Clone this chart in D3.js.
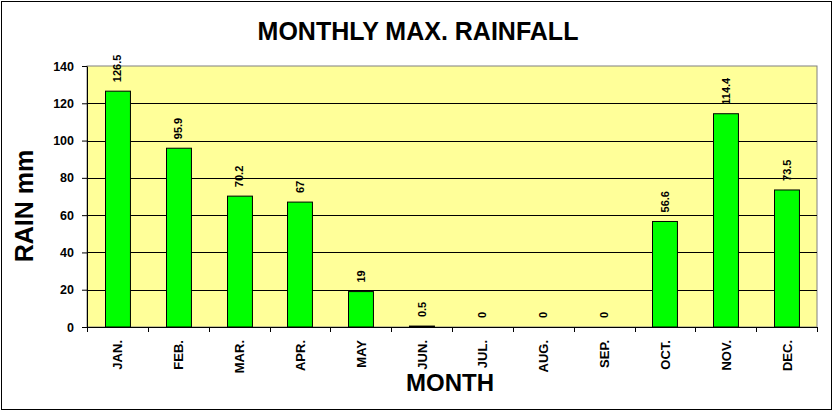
<!DOCTYPE html>
<html>
<head>
<script src="https://cdn.jsdelivr.net/npm/d3@7"></script>
<style>
  body { margin: 0; background: #fff; }
  text { font-family: Arial, "Liberation Sans", sans-serif; font-weight: bold; }
</style>
</head>
<body>
<svg id="chart" width="833" height="411"></svg>
<script>
const months = ['JAN.', 'FEB.', 'MAR.', 'APR.', 'MAY', 'JUN.', 'JUL.', 'AUG.', 'SEP.', 'OCT.', 'NOV.', 'DEC.'];
const rain = [126.5, 95.9, 70.2, 67, 19, 0.5, 0, 0, 0, 56.6, 114.4, 73.5];
const yTicks = [0, 20, 40, 60, 80, 100, 120, 140];

const svg = d3.select('#chart');
const margin = {top: 66, right: 16, bottom: 84, left: 87};
const W = 833, H = 411;
const innerW = W - margin.left - margin.right;
const innerH = H - margin.top - margin.bottom;

// outer frame
svg.append('rect').attr('x', 1.5).attr('y', 1.5).attr('width', W - 3).attr('height', H - 3)
  .attr('fill', '#fff').attr('stroke', '#000').attr('stroke-width', 1);

const g = svg.append('g').attr('transform', `translate(${margin.left},${margin.top})`);

const x = d3.scaleBand().domain(months).range([0, innerW]).paddingInner(0.59).paddingOuter(0.295);
const xOuter = d3.scaleBand().domain(months).range([0, innerW]);
const y = d3.scaleLinear().domain([0, 140]).range([innerH, 0]);

// plot background
g.append('rect').attr('width', innerW).attr('height', innerH)
  .attr('fill', '#ffff99').attr('stroke', '#808080');

// gridlines
g.selectAll('.grid').data(yTicks.filter(d => d > 0 && d < 140)).join('line')
  .attr('x1', 0).attr('x2', innerW)
  .attr('y1', d => Math.round(y(d)) + 0.5).attr('y2', d => Math.round(y(d)) + 0.5)
  .attr('stroke', '#000');

// bars
g.selectAll('.bar').data(rain).join('rect')
  .attr('x', (d, i) => Math.round(x(months[i])) + 0.5)
  .attr('y', d => y(d))
  .attr('width', x.bandwidth())
  .attr('height', d => innerH - y(d))
  .attr('fill', '#00ff00').attr('stroke', '#000');

// value labels
g.selectAll('.val').data(rain).join('text')
  .attr('transform', (d, i) => `translate(${x(months[i]) + x.bandwidth() / 2 + 4},${y(d) - 9}) rotate(-90)`)
  .attr('font-size', 11).attr('text-anchor', 'start')
  .text(d => d);

// y axis
const yAxis = g.append('g').call(d3.axisLeft(y).tickValues(yTicks).tickSize(5).tickPadding(8).tickSizeOuter(0));
yAxis.select('.domain').attr('stroke', '#000');
yAxis.selectAll('text').attr('font-size', 12.5).attr('fill', '#000')
  .style('font-family', 'Arial, "Liberation Sans", sans-serif').style('font-weight', 'bold');

// x axis: ticks at category boundaries
const xg = g.append('g').attr('transform', `translate(0,${innerH})`);
xg.append('line').attr('x1', 0).attr('x2', innerW).attr('y1', 0.5).attr('y2', 0.5).attr('stroke', '#000');
xg.selectAll('.tk').data(months.concat(['end'])).join('line')
  .attr('x1', (d, i) => Math.round(i * xOuter.step()) + 0.5)
  .attr('x2', (d, i) => Math.round(i * xOuter.step()) + 0.5)
  .attr('y1', 0).attr('y2', 5).attr('stroke', '#000');
xg.selectAll('.lbl').data(months).join('text')
  .attr('transform', d => `translate(${xOuter(d) + xOuter.bandwidth() / 2 + 5},13) rotate(-90)`)
  .attr('text-anchor', 'end').attr('font-size', 13)
  .text(d => d);

// titles
svg.append('text').attr('x', 418).attr('y', 40).attr('text-anchor', 'middle')
  .attr('font-size', 25).text('MONTHLY MAX. RAINFALL');
svg.append('text').attr('x', 450).attr('y', 391).attr('text-anchor', 'middle')
  .attr('font-size', 24).text('MONTH');
svg.append('text').attr('transform', 'translate(33,206) rotate(-90)').attr('text-anchor', 'middle')
  .attr('font-size', 25).text('RAIN mm');
</script>
</body>
</html>
